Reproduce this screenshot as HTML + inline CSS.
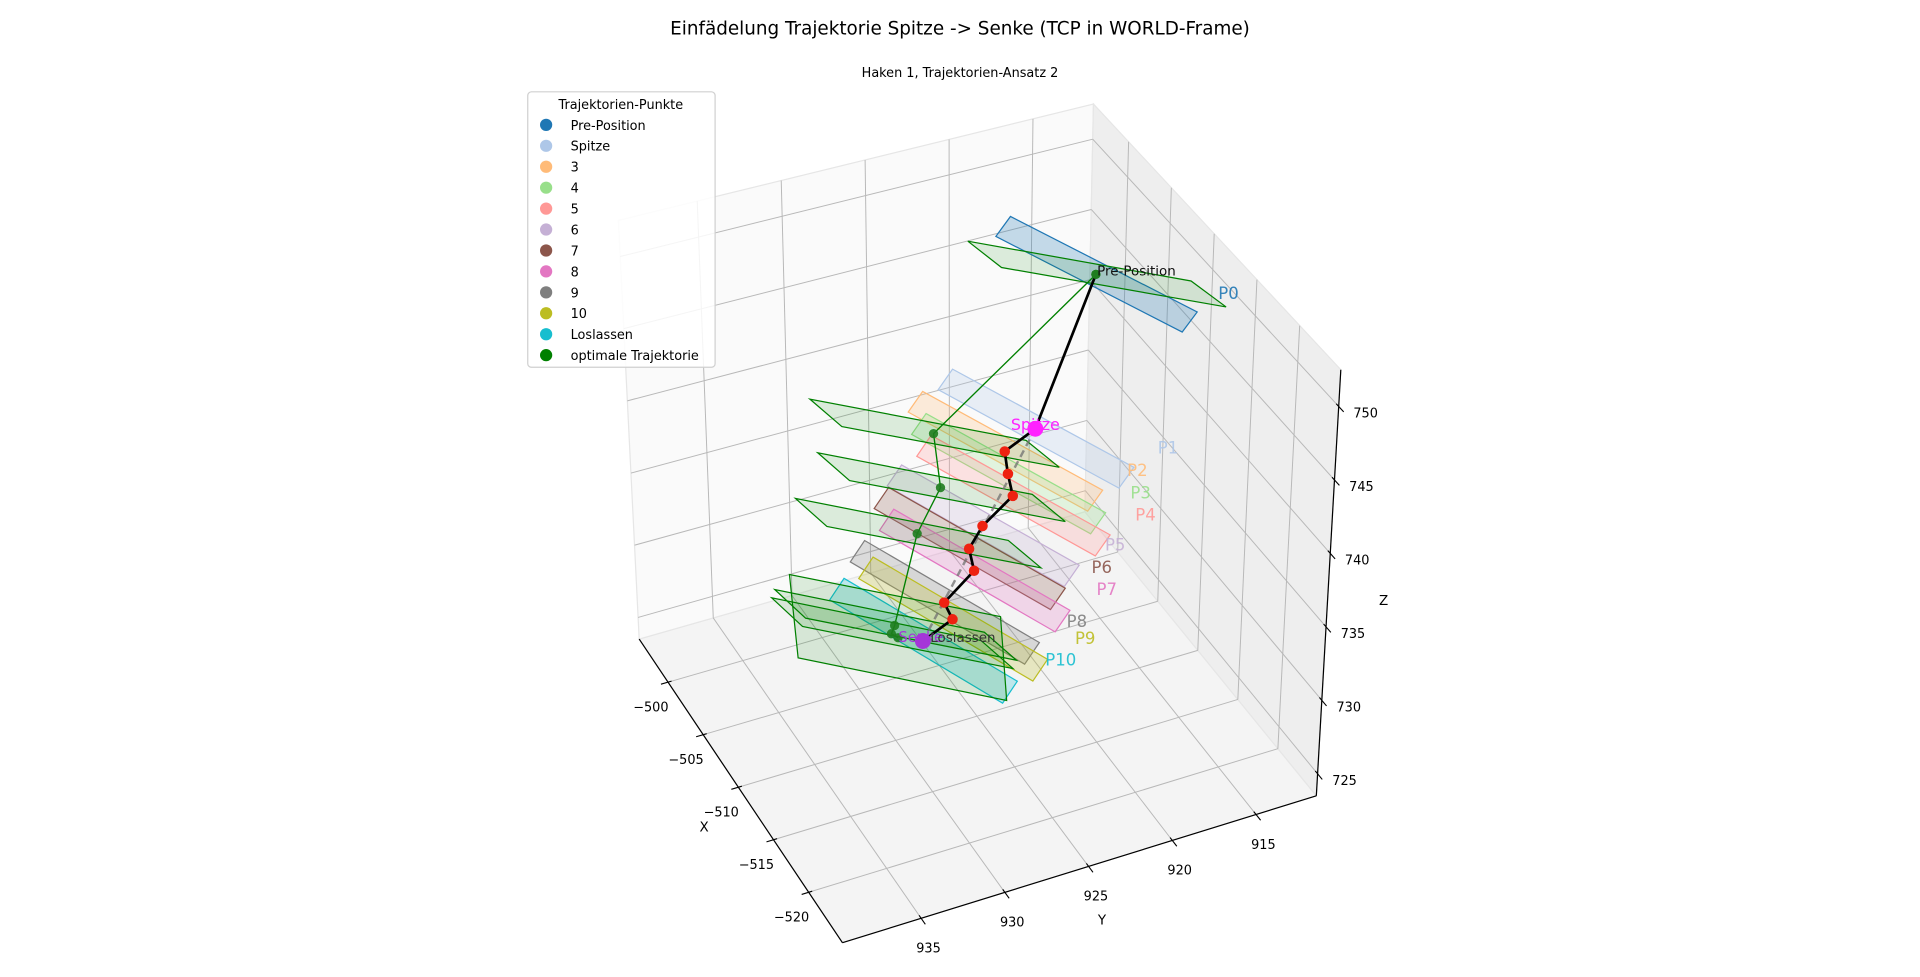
<!DOCTYPE html>
<html><head><meta charset="utf-8"><style>
html,body{margin:0;padding:0;background:#fff;}
svg{display:block;font-family:"DejaVu Sans","Liberation Sans",sans-serif;}
</style></head><body>
<svg id="chart" width="1920" height="977" viewBox="0 0 1568 798" preserveAspectRatio="none" xmlns="http://www.w3.org/2000/svg">
<text x="784" y="28" font-size="15" text-anchor="middle" fill="#000">Einfädelung Trajektorie Spitze -&gt; Senke (TCP in WORLD-Frame)</text>
<text x="784" y="63" font-size="10.5" text-anchor="middle" fill="#000">Haken 1, Trajektorien-Ansatz 2</text>
<g id="panes"></g>
<g id="grid"></g>
<g id="axes"></g>
<g id="planes"></g>
<g id="lines"></g>
<g id="pts"></g>
<g id="labels"></g>
<text x="575" y="679" font-size="11" text-anchor="middle">X</text>
<text x="900" y="755" font-size="11" text-anchor="middle">Y</text>
<text x="1130" y="494" font-size="11" text-anchor="middle">Z</text>
<g id="legend"></g>
</svg>
<script>
// ---- data ----
const pointNames = ['Pre-Position','Spitze','3','4','5','6','7','8','9','10','Loslassen'];
const pointColors = ['#1f77b4','#aec7e8','#ffbb78','#98df8a','#ff9896','#c5b0d5','#8c564b','#e377c2','#7f7f7f','#bcbd22','#17becf'];
const ptX = [-510,-510,-510,-510,-510,-510,-510,-510,-510,-510,-510];
const ptY = [918.2,921.6,923.4,923.2,922.9,924.7,925.5,925.2,927.0,926.5,928.3];
const ptZ = [751.7,742.1,741.1,739.5,737.9,736.4,735.1,733.5,731.9,730.6,729.7];
const optX = [-510,-510,-510,-510,-510,-510,-510];
const optY = [918.2,927.6,927.2,928.6,930.0,930.2,929.8];
const optZ = [751.7,743.6,739.8,737.1,731.3,730.8,730.4];
const xTicks = [-500,-505,-510,-515,-520];
const yTicks = [915,920,925,930,935];
const zTicks = [725,730,735,740,745,750];

// ---- projection (box corners in screen space, trilinear) ----
const xmin=-524.8,xmax=-495.9,ymin=911.4,ymax=939.7,zmin=723.5,zmax=752.5;
const B00=[1075,650],B10=[886,418],B01=[688,770],B11=[522,522];
const T00=[1095,302],T10=[893,85],T01=[680,405],T11=[505,180];
function lerp(a,b,t){return [a[0]+(b[0]-a[0])*t,a[1]+(b[1]-a[1])*t];}
function P(x,y,z){
  const u=(x-xmin)/(xmax-xmin),v=(y-ymin)/(ymax-ymin),w=(z-zmin)/(zmax-zmin);
  const b=lerp(lerp(B00,B10,u),lerp(B01,B11,u),v);
  const t=lerp(lerp(T00,T10,u),lerp(T01,T11,u),v);
  return lerp(b,t,w);
}
const NS='http://www.w3.org/2000/svg';
function mk(tag,attrs,parent){const e=document.createElementNS(NS,tag);for(const k in attrs)e.setAttribute(k,attrs[k]);document.getElementById(parent).appendChild(e);return e;}
function pts(arr){return arr.map(p=>p[0].toFixed(1)+','+p[1].toFixed(1)).join(' ');}

// panes
let e;
e=mk('polygon',{points:pts([P(xmin,ymax,zmin),P(xmax,ymax,zmin),P(xmax,ymin,zmin),P(xmin,ymin,zmin)]),fill:'#f4f4f4',stroke:'#e6e6e6'},'panes');


e=mk('polygon',{points:pts([P(xmax,ymax,zmin),P(xmax,ymin,zmin),P(xmax,ymin,zmax),P(xmax,ymax,zmax)]),fill:'#fafafa',stroke:'#e6e6e6'},'panes');


e=mk('polygon',{points:pts([P(xmax,ymin,zmin),P(xmin,ymin,zmin),P(xmin,ymin,zmax),P(xmax,ymin,zmax)]),fill:'#eeeeee',stroke:'#e6e6e6'},'panes');



// grid
const gs={stroke:'#b8b8b8','stroke-width':0.8,fill:'none'};
function gline(a,b,name){const l=mk('polyline',Object.assign({points:pts([a,b])},gs),'grid');

}
xTicks.forEach(x=>{gline(P(x,ymin,zmin),P(x,ymax,zmin),'grid-x-floor');gline(P(x,ymin,zmin),P(x,ymin,zmax),'grid-x-wall');});
yTicks.forEach(y=>{gline(P(xmin,y,zmin),P(xmax,y,zmin),'grid-y-floor');gline(P(xmax,y,zmin),P(xmax,y,zmax),'grid-y-wall');});
zTicks.forEach(z=>{gline(P(xmax,ymin,z),P(xmax,ymax,z),'grid-z-left');gline(P(xmin,ymin,z),P(xmax,ymin,z),'grid-z-right');});

// axes
function axline(a,b,name){const l=mk('polyline',{points:pts([a,b]),stroke:'#000','stroke-width':1,fill:'none'},'axes');

}
axline(P(xmin,ymax,zmin),P(xmax,ymax,zmin),'x-axis-line');
axline(P(xmin,ymax,zmin),P(xmin,ymin,zmin),'y-axis-line');
axline(P(xmin,ymin,zmin),P(xmin,ymin,zmax),'z-axis-line');
function tick(p,q,lab,off,name){
  const dx=q[0]-p[0],dy=q[1]-p[1],n=Math.hypot(dx,dy);const ux=dx/n,uy=dy/n;
  const l=mk('line',{x1:p[0]-ux*3,y1:p[1]-uy*3,x2:p[0]+ux*6,y2:p[1]+uy*6,stroke:'#000','stroke-width':0.9},'axes');
  
  
  const t=mk('text',{x:p[0]+off[0],y:p[1]+off[1],'font-size':10.5,'text-anchor':'middle',fill:'#000'},'axes');
  t.textContent=lab;
  
  
}
xTicks.forEach(x=>tick(P(x,ymax,zmin),P(x,ymax+1,zmin),String(x).replace('-','\u2212'),[-14,24],'x'));
yTicks.forEach(y=>tick(P(xmin,y,zmin),P(xmin-1,y,zmin),String(y),[6,28],'y'));
zTicks.forEach(z=>tick(P(xmin,ymin,z),P(xmin-1,ymin,z),String(z),[22,9],'z'));

// planes
const L=[-6.25,-2.4,0],S=[-0.72,0.77,0];
const GL=[-4.19,-4.46,0],GS=[-1.53,-0.26,0],GSZ=[0,-0.2,-2.9];
function quad(c,a,b){return [P(c[0]+a[0]+b[0],c[1]+a[1]+b[1],c[2]+a[2]+b[2]),P(c[0]+a[0]-b[0],c[1]+a[1]-b[1],c[2]+a[2]-b[2]),P(c[0]-a[0]-b[0],c[1]-a[1]-b[1],c[2]-a[2]-b[2]),P(c[0]-a[0]+b[0],c[1]-a[1]+b[1],c[2]-a[2]+b[2])];}
for(let i=0;i<ptX.length;i++){
  const q=mk('polygon',{points:pts(quad([ptX[i],ptY[i],ptZ[i]],L,S)),fill:pointColors[i],'fill-opacity':0.25,stroke:pointColors[i],'stroke-width':1},'planes');
  
  
}
for(let i=0;i<optX.length;i++){
  const sv=(i===optX.length-1)?GSZ:GS;
  const q=mk('polygon',{points:pts(quad([optX[i],optY[i],optZ[i]],GL,sv)),fill:'#008000','fill-opacity':0.12,stroke:'#008000','stroke-width':1},'planes');
  
  
}

// lines
const opt=optX.map((x,i)=>P(x,optY[i],optZ[i]));
const tr=ptX.map((x,i)=>P(x,ptY[i],ptZ[i]));
e=mk('polyline',{points:pts(opt),stroke:'#008000','stroke-width':1.1,fill:'none'},'lines');


e=mk('polyline',{points:pts([tr[1],tr[tr.length-1]]),stroke:'#707070','stroke-width':2,'stroke-dasharray':'6,4','stroke-opacity':0.75,fill:'none'},'lines');


e=mk('polyline',{points:pts(tr),stroke:'#000','stroke-width':2.2,fill:'none'},'lines');



// points
opt.forEach((p,i)=>{const c=mk('circle',{cx:p[0],cy:p[1],r:3.8,fill:'#1e7d1e','fill-opacity':0.9},'pts');

});
tr.forEach((p,i)=>{
  let r=4.3,f='#ee2211';
  if(i===0){r=3.8;f='#1e7d1e';}
  if(i===1){r=6.5;f='#ff22ff';}
  if(i===tr.length-1){r=6.5;f='#a535d8';}
  const c=mk('circle',{cx:p[0],cy:p[1],r:r,fill:f},'pts');
  
  
});

// labels
tr.forEach((p,i)=>{const t=mk('text',{x:p[0]+100,y:p[1]+20,'font-size':13.5,fill:pointColors[i],'fill-opacity':0.9},'labels');
t.textContent='P'+i;

});
function lab(txt,x,y,size,fill,anchor,name){const t=mk('text',{x:x,y:y,'font-size':size,fill:fill,'text-anchor':anchor},'labels');t.textContent=txt;

}
lab('Pre-Position',tr[0][0]+1,tr[0][1]+1,11,'#111','start','pre-position-label');
lab('Spitze',tr[1][0],tr[1][1]+1,13,'#ff22ff','middle','spitze-label');
lab('Senke',tr[10][0]-20,tr[10][1]+1,12,'#a535d8','start','senke-label');
lab('Loslassen',tr[10][0]+6,tr[10][1]+1,11,'#333','start','loslassen-label');

// legend
const legNames=pointNames.concat(['optimale Trajektorie']);
const legColors=pointColors.concat(['#008000']);
e=mk('rect',{x:431,y:75,width:153,height:225,rx:3,fill:'#fff','fill-opacity':0.85,stroke:'#d0d0d0'},'legend');


e=mk('text',{x:507,y:89,'font-size':10.5,'text-anchor':'middle',fill:'#000'},'legend');
e.textContent='Trajektorien-Punkte';


legNames.forEach((n,i)=>{
  const y=102+i*17.1;
  const c=mk('circle',{cx:446,cy:y,r:5,fill:legColors[i]},'legend');
  
  
  const t=mk('text',{x:466,y:y+4,'font-size':10.5,fill:'#000'},'legend');
  t.textContent=n;
  
  
});
</script>
</body></html>
